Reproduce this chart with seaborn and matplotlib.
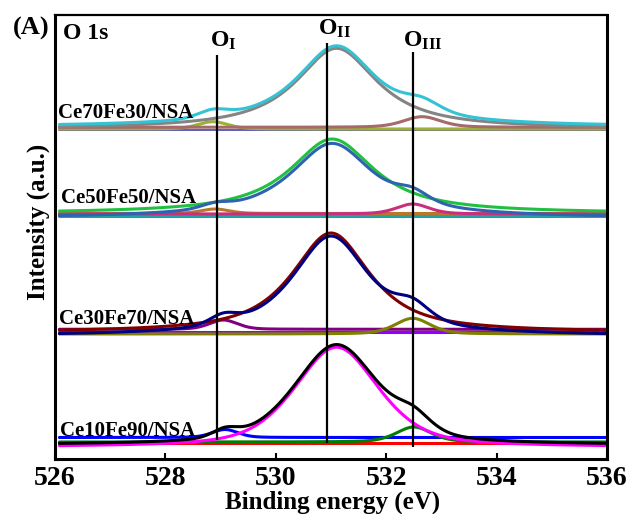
import numpy as np
import pandas as pd
import matplotlib
matplotlib.use("Agg")
import matplotlib.pyplot as plt
import seaborn as sns

# ---- O 1s peak-fit parameters for each sample (intensity in a.u.) ----
samples = ["Ce10Fe90/NSA", "Ce30Fe70/NSA", "Ce50Fe50/NSA", "Ce70Fe30/NSA"]

# O_I component (lattice oxygen)
oI_center = [529.08, 529.05, 528.90, 528.86]
oI_height = [8.0, 9.3, 4.5, 7.3]
oI_fwhm = [0.55, 0.60, 0.60, 0.65]
oI_offset = [21.5, 129.7, 245.5, 330.0]

# O_II component (adsorbed oxygen)
oII_center = [531.10, 531.00, 531.02, 531.10]
oII_height = [100.0, 99.5, 74.4, 80.7]
oII_fwhm = [1.80, 1.69, 1.84, 1.77]
oII_eta = [0.50, 0.85, 0.95, 0.95]
oII_offset = [11.8, 126.5, 245.6, 330.0]

# O_III component (hydroxyl / water oxygen)
oIII_center = [532.50, 532.48, 532.48, 532.65]
oIII_height = [15.0, 15.7, 10.0, 10.6]
oIII_fwhm = [0.75, 0.75, 0.70, 0.80]
oIII_offset = [17.0, 125.0, 245.0, 331.7]

# background level and envelope base
baseline_level = [16.3, 127.3, 243.0, 329.0]
envelope_base = [14.0, 123.0, 241.0, 332.2]

# line colours per sample
envelope_color = ["#000000", "#000080", "#2f62b0", "#35c3d3"]
oI_color = ["#0000ff", "#800080", "#b8782a", "#9cb032"]
oII_color = ["#ff00ff", "#800000", "#20c040", "#848484"]
oIII_color = ["#008000", "#808000", "#c8307f", "#a56a6a"]
baseline_color = ["#ff0000", "#8f00ff", "#22a3a3", "#4444a8"]

# reference binding energies of the three oxygen species
ref_energy = [528.93, 530.92, 532.48]
ref_label = [r"$\mathbf{O_{I}}$", r"$\mathbf{O_{II}}$", r"$\mathbf{O_{III}}$"]

x_ticks = [526, 528, 530, 532, 534, 536]


def pseudo_voigt(x, center, fwhm, eta):
    hw = fwhm / 2.0
    u = (x - center) / hw
    lor = 1.0 / (1.0 + u ** 2)
    gau = np.exp(-np.log(2.0) * u ** 2)
    return eta * lor + (1.0 - eta) * gau


energy = np.linspace(526.08, 536.0, 700)

records = []
palette = {}
for i, name in enumerate(samples):
    p1 = oI_height[i] * pseudo_voigt(energy, oI_center[i], oI_fwhm[i], 0.3)
    p2 = oII_height[i] * pseudo_voigt(energy, oII_center[i], oII_fwhm[i], oII_eta[i])
    p3 = oIII_height[i] * pseudo_voigt(energy, oIII_center[i], oIII_fwhm[i], 0.4)
    curves = [
        ("bg", np.full_like(energy, baseline_level[i]), baseline_color[i]),
        ("O1", oI_offset[i] + p1, oI_color[i]),
        ("O3", oIII_offset[i] + p3, oIII_color[i]),
        ("O2", oII_offset[i] + p2, oII_color[i]),
        ("env", envelope_base[i] + p1 + p2 + p3, envelope_color[i]),
    ]
    for tag, y, col in curves:
        key = f"{name}:{tag}"
        palette[key] = col
        records.append(pd.DataFrame({"energy": energy, "intensity": y, "curve": key}))

df = pd.concat(records, ignore_index=True)

sns.set_theme(style="white")
plt.rcParams["font.family"] = ["Liberation Serif", "DejaVu Serif"]
plt.rcParams["font.weight"] = "bold"
plt.rcParams["mathtext.fontset"] = "custom"
plt.rcParams["mathtext.rm"] = "Liberation Serif:bold"
plt.rcParams["mathtext.bf"] = "Liberation Serif:bold"
plt.rcParams["mathtext.it"] = "Liberation Serif:bold"

fig = plt.figure(figsize=(6.32, 5.14), dpi=100)
ax = fig.add_axes([55 / 632, 1 - 459 / 514, 552 / 632, 444 / 514])

sns.lineplot(data=df, x="energy", y="intensity", hue="curve", palette=palette,
             hue_order=list(palette.keys()), estimator=None, sort=False,
             legend=False, linewidth=2.2, ax=ax)
# thin background line for the top sample
ax.lines[15].set_linewidth(1.2)

# vertical guides at the O_I, O_II, O_III positions
v_lo = [19, 16, 12]
v_hi = [404, 416, 407]
for e, lo, hi in zip(ref_energy, v_lo, v_hi):
    ax.plot([e, e], [lo, hi], color="black", lw=1.6, solid_capstyle="butt")

label_pos = [(528.81, 412), (530.76, 424), (532.30, 412)]
for (lx, ly), lab in zip(label_pos, ref_label):
    ax.text(lx, ly, lab, fontsize=17, ha="left", va="baseline", color="black")

label_y = [23.3, 135.0, 256.0, 341.0]
label_x = [526.09, 526.07, 526.11, 526.05]
for name, lx, ly in zip(samples, label_x, label_y):
    ax.text(lx, ly, name, fontsize=15, fontweight="bold", ha="left",
            va="baseline", color="black")

ax.text(526.14, 420, "O 1s", fontsize=17, fontweight="bold", ha="left",
        va="baseline", color="black")
fig.text(13 / 632, 1 - 35 / 514, "(A)", fontsize=19, fontweight="bold",
         ha="left", va="baseline", color="black")

ax.set_xlim(526, 536)
ax.set_ylim(0, 444)
ax.set_xticks(x_ticks)
ax.set_xticklabels([str(t) for t in x_ticks], fontsize=20, fontweight="bold")
ax.set_yticks([])
ax.tick_params(axis="x", direction="in", length=4.5, width=1.5, pad=5,
               colors="black", bottom=True, top=False)
for side in ["left", "right", "top", "bottom"]:
    ax.spines[side].set_color("black")
    ax.spines[side].set_linewidth(2.2)
ax.spines["top"].set_linewidth(1.6)

ax.set_xlabel("")
ax.set_ylabel("")
fig.text(333 / 632, 1 - 509 / 514, "Binding energy (eV)", fontsize=18,
         fontweight="bold", ha="center", va="baseline", color="black")
fig.text(38 / 632, 1 - 222 / 514, "Intensity (a.u.)", fontsize=18,
         fontweight="bold", ha="center", va="center", rotation=90, color="black")

fig.savefig("out.png", dpi=100)
